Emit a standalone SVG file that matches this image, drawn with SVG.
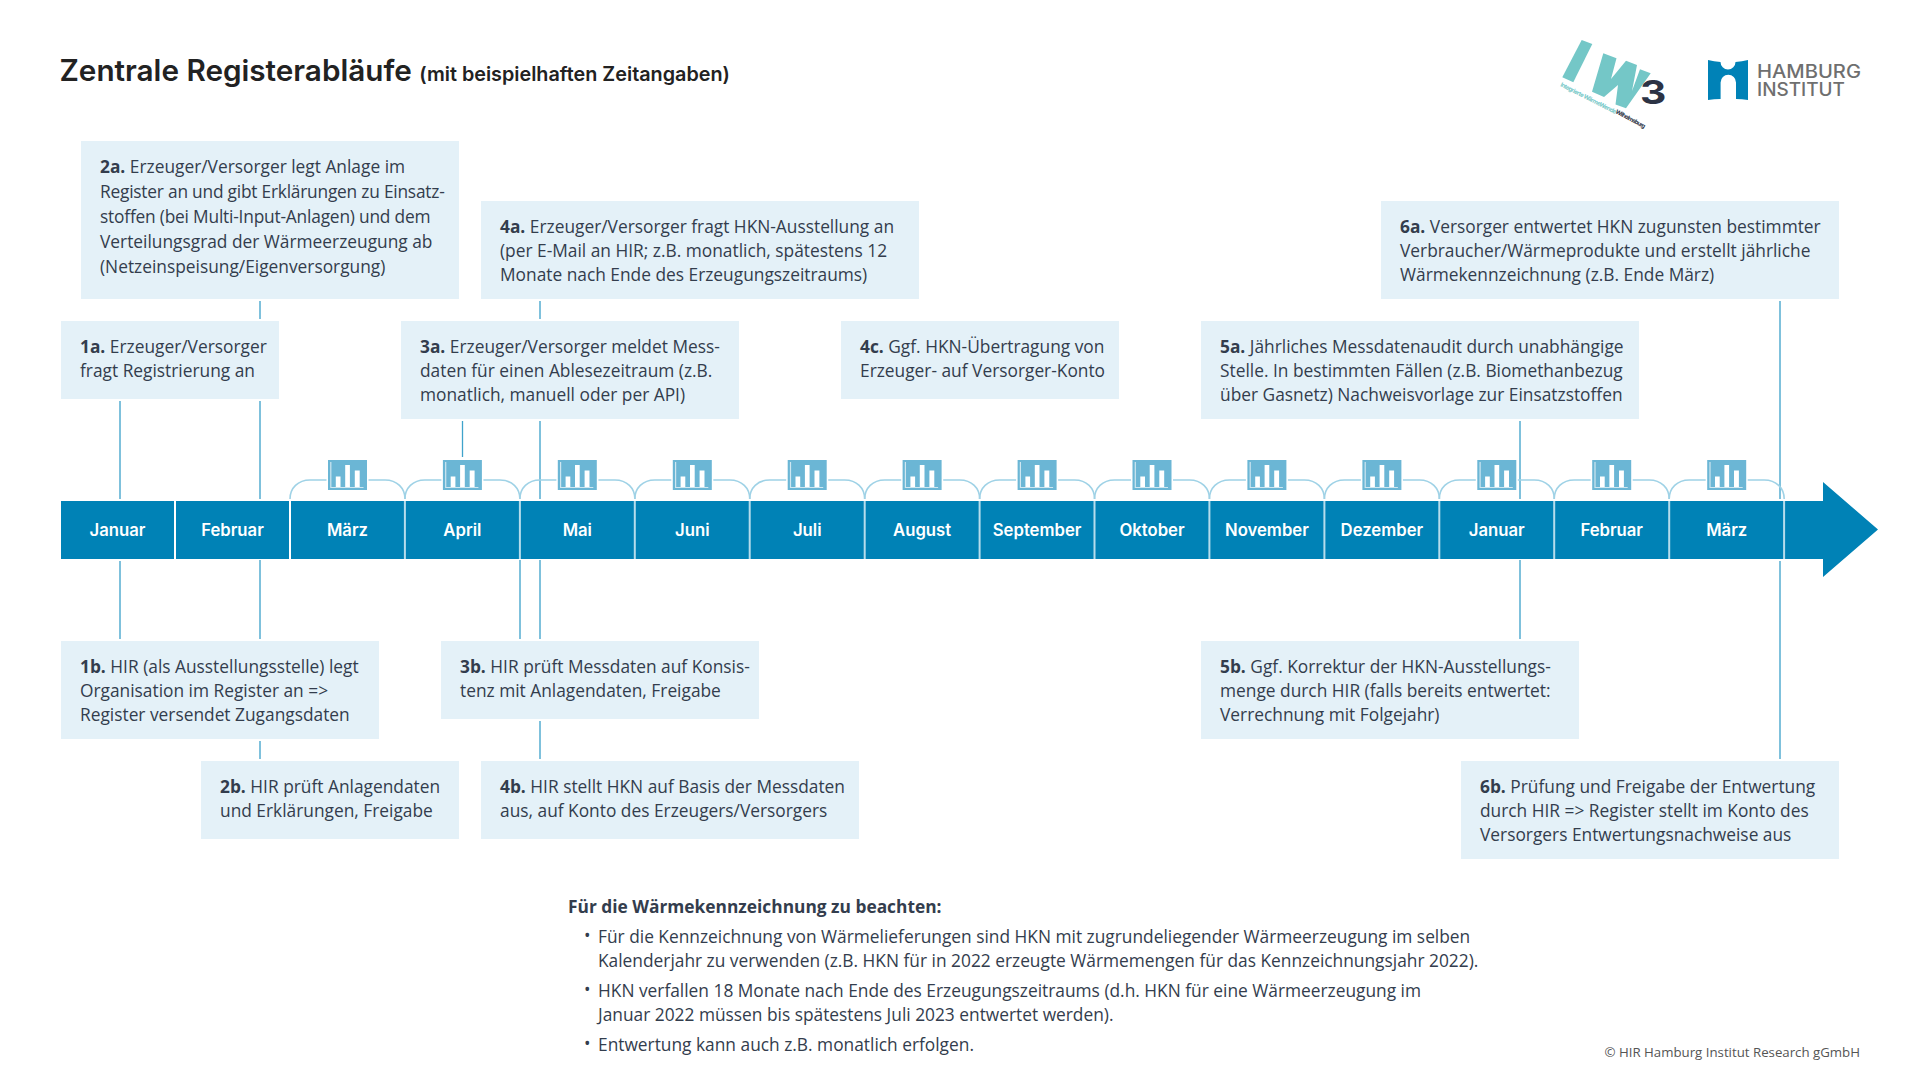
<svg xmlns="http://www.w3.org/2000/svg" xmlns:xlink="http://www.w3.org/1999/xlink" width="1920" height="1080" viewBox="0 0 1920 1080">
<style>
.box{fill:#e4f1f8}
.t{font-family:"Open Sans","Noto Sans",sans-serif;font-size:17.33px;fill:#333d4d}
.b{font-weight:700}
.m{font-family:Inter,Roboto,sans-serif;font-weight:600;font-size:16.7px;fill:#fff;text-anchor:middle}
.c{stroke:#7fc1dc;stroke-width:2;fill:none}
.thin{stroke:#3fa3cb;stroke-width:1.3;fill:none}
.arc{stroke:#9fd2e6;stroke-width:1.6;fill:none}
.sep{stroke:#b5dcec;stroke-width:2}
.sw{stroke:#fff;stroke-width:2}
</style>
<defs>
<g id="ico">
<rect x="-19.5" y="460" width="39" height="30" fill="#6bb6d5"/>
<path d="M-16.7 462V487.5H16" fill="none" stroke="#cfe7f1" stroke-width="1.2"/>
<path d="M-11.7 476.5h4.7v10.5h-4.7zM-2.3 465h4.7v22h-4.7zM7.3 470.5h4.9v16.5h-4.9z" fill="#fff"/>
</g>
<path id="br" d="M0 499C0 488 8 480 20 480H36.5M78.5 480H95C107 480 115 488 115 499" class="arc"/>
</defs>
<rect width="1920" height="1080" fill="#fff"/>
<g id="title">
<text x="59.5" y="81" style="font-family:Inter,Roboto,sans-serif;font-weight:600;font-size:29.7px;fill:#222">Zentrale Registerabläufe <tspan style="font-size:19.8px">(mit beispielhaften Zeitangaben)</tspan></text>
</g>
<g id="logo-iw3">
<polygon points="1581.7,40 1592.3,44 1573.3,82.3 1562.3,77.3" fill="#74c7c7"/>
<polygon points="1603.3,53.3 1616.5,58.3 1611,79 1626,60.7 1637,65 1632,91 1640,69.3 1650.7,73.3 1626,108.3 1615.5,104.5 1618,85 1604,97 1592,91.7" fill="#74c7c7"/>
<text transform="translate(1640,103.5) scale(1.2,0.96)" style="font-family:Inter,sans-serif;font-weight:700;font-size:34px;fill:#2c3345">3</text>
<text transform="translate(1560,86) rotate(27)" textLength="62" style="font-family:Inter,sans-serif;font-weight:700;font-size:6px;fill:#74c7c7">Integrierte WärmeWende</text>
<text transform="translate(1615,113) rotate(28)" textLength="33" style="font-family:Inter,sans-serif;font-weight:700;font-size:6px;fill:#2c3345">Wilhelmsburg</text>
</g>
<g id="logo-hamburg">
<path d="M1708 60Q1714 61.5 1720.5 62A7.5 7.5 0 0 0 1735.5 62Q1742 61.5 1748 60V100Q1742 99 1736 99V82.5A7.7 7.7 0 0 0 1720.6 82.5V99Q1714 99 1708 100Z" fill="#0082b7"/>
<text x="1757" y="78" textLength="104" lengthAdjust="spacingAndGlyphs" style="font-family:Inter,'Liberation Sans',sans-serif;font-weight:500;font-size:18px;fill:#6f6f6f">HAMBURG</text>
<text x="1757" y="96" textLength="88" lengthAdjust="spacingAndGlyphs" style="font-family:Inter,'Liberation Sans',sans-serif;font-weight:500;font-size:18px;fill:#6f6f6f">INSTITUT</text>
</g>
<g id="timeline">
<polygon points="61,501 1823,501 1823,482 1878,529.5 1823,577 1823,559 61,559" fill="#0082b6"/>
<path class="sw" d="M175 501V559M290 501V559"/>
<path class="sep" d="M404.9 501V559M519.9 501V559M634.8 501V559M749.7 501V559M864.7 501V559M979.6 501V559M1094.5 501V559M1209.4 501V559M1324.4 501V559M1439.3 501V559M1554.2 501V559M1669.2 501V559M1784.1 501V559"/>
<text class="m" x="117.5" y="536">Januar</text>
<text class="m" x="232.5" y="536">Februar</text>
<text class="m" x="347.5" y="536">März</text>
<text class="m" x="462.4" y="536">April</text>
<text class="m" x="577.3" y="536">Mai</text>
<text class="m" x="692.3" y="536">Juni</text>
<text class="m" x="807.2" y="536">Juli</text>
<text class="m" x="922.1" y="536">August</text>
<text class="m" x="1037.1" y="536">September</text>
<text class="m" x="1152" y="536">Oktober</text>
<text class="m" x="1266.9" y="536">November</text>
<text class="m" x="1381.9" y="536">Dezember</text>
<text class="m" x="1496.8" y="536">Januar</text>
<text class="m" x="1611.7" y="536">Februar</text>
<text class="m" x="1726.7" y="536">März</text>
</g>
<g id="connectors">
<path class="c" d="M260 301V319M120 401V499M260 401V499M540 301V319M540 421V499M1520 421V499M1780 301V499M120 561V639M260 560V639M260 741V759M520 560V639M540 560V639M540 721V759M1520 560V639M1780 561V759"/>
<path class="thin" d="M462.5 421V457"/>
</g>
<g id="brackets">
<use href="#br" x="290"/><use href="#br" x="404.9"/><use href="#br" x="519.9"/><use href="#br" x="634.8"/><use href="#br" x="749.7"/><use href="#br" x="864.7"/><use href="#br" x="979.6"/><use href="#br" x="1094.5"/><use href="#br" x="1209.4"/><use href="#br" x="1324.4"/><use href="#br" x="1439.3"/><use href="#br" x="1554.2"/><use href="#br" x="1669.2"/>
<use href="#ico" x="347.5"/><use href="#ico" x="462.4"/><use href="#ico" x="577.3"/><use href="#ico" x="692.3"/><use href="#ico" x="807.2"/><use href="#ico" x="922.1"/><use href="#ico" x="1037.1"/><use href="#ico" x="1152"/><use href="#ico" x="1266.9"/><use href="#ico" x="1381.9"/><use href="#ico" x="1496.8"/><use href="#ico" x="1611.7"/><use href="#ico" x="1726.7"/>
</g>
<g id="n1a"><rect class="box" x="61" y="321" width="218" height="78"/><text class="t" y="353"><tspan x="80"><tspan class="b">1a.</tspan> Erzeuger/Versorger</tspan><tspan x="80" y="377">fragt Registrierung an</tspan></text></g>
<g id="n2a"><rect class="box" x="81" y="141" width="378" height="158"/><text class="t" y="173"><tspan x="100"><tspan class="b">2a.</tspan> Erzeuger/Versorger legt Anlage im</tspan><tspan x="100" y="198" letter-spacing="-0.22">Register an und gibt Erklärungen zu Einsatz-</tspan><tspan x="100" y="223" letter-spacing="-0.2">stoffen (bei Multi-Input-Anlagen) und dem</tspan><tspan x="100" y="248">Verteilungsgrad der Wärmeerzeugung ab</tspan><tspan x="100" y="273">(Netzeinspeisung/Eigenversorgung)</tspan></text></g>
<g id="n3a"><rect class="box" x="401" y="321" width="338" height="98"/><text class="t" y="353"><tspan x="420"><tspan class="b">3a.</tspan> Erzeuger/Versorger meldet Mess-</tspan><tspan x="420" y="377">daten für einen Ablesezeitraum (z.B.</tspan><tspan x="420" y="401">monatlich, manuell oder per API)</tspan></text></g>
<g id="n4a"><rect class="box" x="481" y="201" width="438" height="98"/><text class="t" y="233"><tspan x="500"><tspan class="b">4a.</tspan> Erzeuger/Versorger fragt HKN-Ausstellung an</tspan><tspan x="500" y="257">(per E-Mail an HIR; z.B. monatlich, spätestens 12</tspan><tspan x="500" y="281">Monate nach Ende des Erzeugungszeitraums)</tspan></text></g>
<g id="n4c"><rect class="box" x="841" y="321" width="278" height="78"/><text class="t" y="353"><tspan x="860"><tspan class="b">4c.</tspan> Ggf. HKN-Übertragung von</tspan><tspan x="860" y="377">Erzeuger- auf Versorger-Konto</tspan></text></g>
<g id="n5a"><rect class="box" x="1201" y="321" width="438" height="98"/><text class="t" y="353"><tspan x="1220"><tspan class="b">5a.</tspan> Jährliches Messdatenaudit durch unabhängige</tspan><tspan x="1220" y="377">Stelle. In bestimmten Fällen (z.B. Biomethanbezug</tspan><tspan x="1220" y="401">über Gasnetz) Nachweisvorlage zur Einsatzstoffen</tspan></text></g>
<g id="n6a"><rect class="box" x="1381" y="201" width="458" height="98"/><text class="t" y="233"><tspan x="1400"><tspan class="b">6a.</tspan> Versorger entwertet HKN zugunsten bestimmter</tspan><tspan x="1400" y="257">Verbraucher/Wärmeprodukte und erstellt jährliche</tspan><tspan x="1400" y="281">Wärmekennzeichnung (z.B. Ende März)</tspan></text></g>
<g id="n1b"><rect class="box" x="61" y="641" width="318" height="98"/><text class="t" y="673"><tspan x="80"><tspan class="b">1b.</tspan> HIR (als Ausstellungsstelle) legt</tspan><tspan x="80" y="697">Organisation im Register an =&gt;</tspan><tspan x="80" y="721">Register versendet Zugangsdaten</tspan></text></g>
<g id="n2b"><rect class="box" x="201" y="761" width="258" height="78"/><text class="t" y="793"><tspan x="220"><tspan class="b">2b.</tspan> HIR prüft Anlagendaten</tspan><tspan x="220" y="817">und Erklärungen, Freigabe</tspan></text></g>
<g id="n3b"><rect class="box" x="441" y="641" width="318" height="78"/><text class="t" y="673"><tspan x="460"><tspan class="b">3b.</tspan> HIR prüft Messdaten auf Konsis-</tspan><tspan x="460" y="697">tenz mit Anlagendaten, Freigabe</tspan></text></g>
<g id="n4b"><rect class="box" x="481" y="761" width="378" height="78"/><text class="t" y="793"><tspan x="500"><tspan class="b">4b.</tspan> HIR stellt HKN auf Basis der Messdaten</tspan><tspan x="500" y="817">aus, auf Konto des Erzeugers/Versorgers</tspan></text></g>
<g id="n5b"><rect class="box" x="1201" y="641" width="378" height="98"/><text class="t" y="673"><tspan x="1220"><tspan class="b">5b.</tspan> Ggf. Korrektur der HKN-Ausstellungs-</tspan><tspan x="1220" y="697">menge durch HIR (falls bereits entwertet:</tspan><tspan x="1220" y="721">Verrechnung mit Folgejahr)</tspan></text></g>
<g id="n6b"><rect class="box" x="1461" y="761" width="378" height="98"/><text class="t" y="793"><tspan x="1480"><tspan class="b">6b.</tspan> Prüfung und Freigabe der Entwertung</tspan><tspan x="1480" y="817">durch HIR =&gt; Register stellt im Konto des</tspan><tspan x="1480" y="841">Versorgers Entwertungsnachweise aus</tspan></text></g>
<g id="notes">
<text class="t b" x="568" y="913">Für die Wärmekennzeichnung zu beachten:</text>
<text class="t" x="584" y="942">•</text><text class="t" x="598" y="943">Für die Kennzeichnung von Wärmelieferungen sind HKN mit zugrundeliegender Wärmeerzeugung im selben</text>
<text class="t" x="598" y="967">Kalenderjahr zu verwenden (z.B. HKN für in 2022 erzeugte Wärmemengen für das Kennzeichnungsjahr 2022).</text>
<text class="t" x="584" y="996">•</text><text class="t" x="598" y="997">HKN verfallen 18 Monate nach Ende des Erzeugungszeitraums (d.h. HKN für eine Wärmeerzeugung im</text>
<text class="t" x="598" y="1021">Januar 2022 müssen bis spätestens Juli 2023 entwertet werden).</text>
<text class="t" x="584" y="1050">•</text><text class="t" x="598" y="1051">Entwertung kann auch z.B. monatlich erfolgen.</text>
</g>
<text id="copyright" x="1860" y="1057" text-anchor="end" style="font-family:'Open Sans',sans-serif;font-size:13.25px;fill:#555">© HIR Hamburg Institut Research gGmbH</text>
</svg>
